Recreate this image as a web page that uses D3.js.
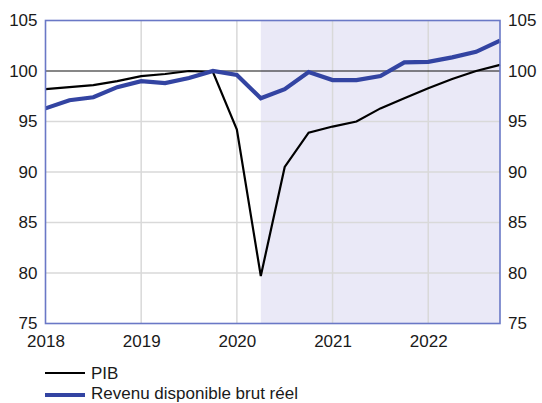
<!DOCTYPE html>
<html>
<head>
<meta charset="utf-8">
<script src="https://cdn.jsdelivr.net/npm/d3@7"></script>
<style>
  body { margin: 0; background: #fff; }
  text { font-family: "Liberation Sans", Arial, sans-serif; fill: #1a1a1a; }
</style>
</head>
<body>
<svg id="chart" width="542" height="403"></svg>
<script>
// quarterly data, 2018Q1 .. 2022Q4
const quarters = d3.range(20).map(i => 2018 + i / 4)
const pib = [98.2, 98.4, 98.6, 99.0, 99.5, 99.7, 100.0, 99.9, 94.2, 79.7,
             90.5, 93.9, 94.5, 95.0, 96.3, 97.3, 98.3, 99.2, 100.0, 100.6]
const rdb = [96.3, 97.1, 97.4, 98.4, 99.0, 98.8, 99.3, 100.0, 99.6, 97.3,
             98.2, 99.9, 99.1, 99.1, 99.5, 100.85, 100.9, 101.35, 101.9, 103.0]
const yearTicks = [2018, 2019, 2020, 2021, 2022]
const valueTicks = [75, 80, 85, 90, 95, 100, 105]
const shadeStart = 2020.25
const seriesNames = ["PIB", "Revenu disponible brut réel"]

const svg = d3.select("#chart")
const pLeft = 45.5, pRight = 500, pTop = 20.5, pBottom = 323.5

const x = d3.scaleLinear().domain([2018, 2022.75]).range([pLeft, pRight])
const y = d3.scaleLinear().domain([75, 105]).range([pBottom, pTop])

// shaded projection zone
svg.append("rect")
  .attr("x", x(shadeStart)).attr("y", pTop)
  .attr("width", x(2022.75) - x(shadeStart)).attr("height", pBottom - pTop)
  .attr("fill", "#eae9f7")

// grid
svg.append("g").selectAll("line").data(yearTicks.slice(1)).join("line")
  .attr("x1", d => x(d)).attr("x2", d => x(d))
  .attr("y1", pTop).attr("y2", pBottom)
  .attr("stroke", "#d9d9d9").attr("stroke-width", 1.5)
svg.append("g").selectAll("line").data(valueTicks.filter(v => v > 75 && v < 100)).join("line")
  .attr("x1", pLeft).attr("x2", pRight)
  .attr("y1", d => y(d)).attr("y2", d => y(d))
  .attr("stroke", "#d9d9d9").attr("stroke-width", 1.5)

// reference at 100
svg.append("line")
  .attr("x1", pLeft).attr("x2", pRight)
  .attr("y1", y(100)).attr("y2", y(100))
  .attr("stroke", "#111").attr("stroke-width", 1.2)

const line = d3.line().x((d, i) => x(quarters[i])).y(d => y(d))

svg.append("path").datum(pib)
  .attr("d", line).attr("fill", "none")
  .attr("stroke", "#000").attr("stroke-width", 2.2)
  .attr("stroke-linejoin", "miter")

svg.append("path").datum(rdb)
  .attr("d", line).attr("fill", "none")
  .attr("stroke", "#3344a2").attr("stroke-width", 4.2)
  .attr("stroke-linejoin", "miter")

// frame
svg.append("rect")
  .attr("x", pLeft).attr("y", pTop)
  .attr("width", pRight - pLeft).attr("height", pBottom - pTop)
  .attr("fill", "none").attr("stroke", "#6a78c6").attr("stroke-width", 1.6)

// axes
const yLeft = d3.axisLeft(y).tickValues(valueTicks).tickSize(0).tickPadding(8)
const yRight = d3.axisRight(y).tickValues(valueTicks).tickSize(0).tickPadding(8)
const xAxis = d3.axisBottom(x).tickValues(yearTicks).tickFormat(d3.format("d")).tickSize(0).tickPadding(10)

const gl = svg.append("g").attr("transform", `translate(${pLeft},0)`).call(yLeft)
const gr = svg.append("g").attr("transform", `translate(${pRight},0)`).call(yRight)
const gx = svg.append("g").attr("transform", `translate(0,${pBottom})`).call(xAxis)
;[gl, gr, gx].forEach(g => {
  g.select(".domain").remove()
  g.selectAll("text").attr("font-size", 17).attr("fill", "#1a1a1a")
    .attr("font-family", "Liberation Sans, Arial, sans-serif")
})
gx.selectAll("text").attr("dy", "0.8em")

// legend
const legend = svg.append("g")
const lg = legend.selectAll("g").data(seriesNames).join("g")
  .attr("transform", (d, i) => `translate(45,${373 + i * 22})`)
lg.append("line")
  .attr("x1", 0).attr("x2", 40).attr("y1", 0).attr("y2", 0)
  .attr("stroke", (d, i) => i === 0 ? "#000" : "#3344a2")
  .attr("stroke-width", (d, i) => i === 0 ? 2.2 : 4.2)
lg.append("text")
  .attr("x", 46).attr("y", (d, i) => i === 0 ? 6 : 3.5)
  .attr("font-size", 17)
  .text(d => d)
</script>
</body>
</html>
